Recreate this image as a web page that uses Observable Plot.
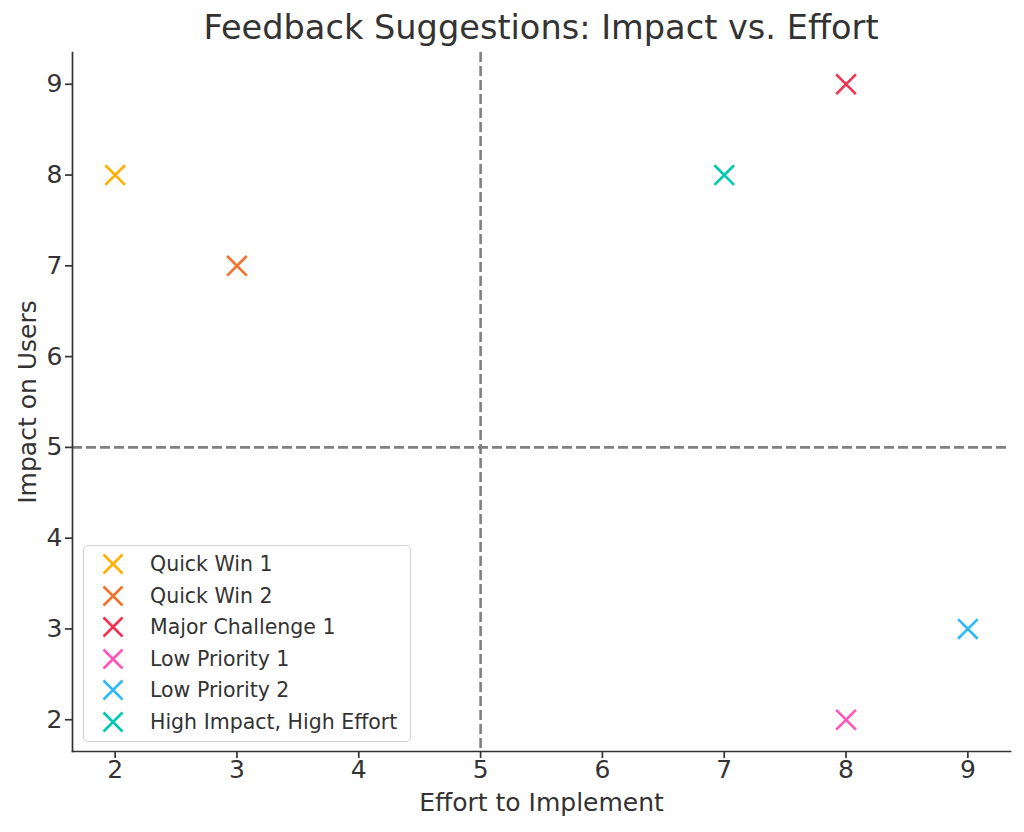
<!DOCTYPE html>
<html>
<head>
<meta charset="utf-8">
<script src="https://cdn.jsdelivr.net/npm/d3@7"></script>
<script src="https://cdn.jsdelivr.net/npm/@observablehq/plot@0.6"></script>
<style>
  html, body { margin: 0; padding: 0; background: #fff; }
  #wrap { position: relative; width: 1024px; height: 832px; font-family: "DejaVu Sans", sans-serif; color: #333; }
  #titleInner { position: absolute; left: 72px; width: 938px; top: 0; height: 52px; padding-top: 4px; box-sizing: border-box; line-height: 48px; font-size: 33.6px; text-align: center; white-space: nowrap; color: #333; }
  #legend { position: absolute; left: 83px; top: 545px; width: 328px; height: 197px; box-sizing: border-box; border: 1.5px solid #d0d0d0; border-radius: 5px; background: rgba(255,255,255,0.85); }
  .row { position: absolute; left: 0; height: 30px; display: flex; align-items: center; font-size: 20.5px; color: #333; white-space: nowrap; }
  .row svg { position: absolute; left: 18px; top: 4px; }
  .row span { position: absolute; left: 66px; top: 50%; transform: translateY(-50%); }
</style>
</head>
<body>
<div id="wrap">
  <div id="titleInner">Feedback Suggestions: Impact vs. Effort</div>
  <div id="chart" style="position:absolute;left:0;top:52px;"></div>
  <div id="legend"></div>
</div>
<script>
const names = ["Quick Win 1", "Quick Win 2", "Major Challenge 1", "Low Priority 1", "Low Priority 2", "High Impact, High Effort"];
const effort = [2, 3, 8, 8, 9, 7];
const impact = [8, 7, 9, 2, 3, 8];
const colors = ["#FFB000", "#F4722B", "#F2304F", "#FF55B8", "#2FB9F5", "#00C9B2"];
const xTicks = [2, 3, 4, 5, 6, 7, 8, 9];
const yTicks = [2, 3, 4, 5, 6, 7, 8, 9];
const threshold = 5;

const data = names.map((n, i) => ({name: n, effort: effort[i], impact: impact[i]}));

const chart = Plot.plot({
  width: 1024,
  height: 780,
  marginTop: 0,
  marginBottom: 81,
  marginLeft: 72,
  marginRight: 14,
  style: {fontFamily: "DejaVu Sans, sans-serif", fontSize: "25px", color: "#333", background: "white", overflow: "visible"},
  x: {domain: [1.65, 9.35]},
  y: {domain: [1.65, 9.35]},
  color: {domain: names, range: colors},
  marks: [
    Plot.ruleX([threshold], {stroke: "#7f7f7f", strokeWidth: 2.6, strokeDasharray: "10,4"}),
    Plot.ruleY([threshold], {stroke: "#7f7f7f", strokeWidth: 2.6, strokeDasharray: "10,4"}),
    Plot.frame({anchor: "left", stroke: "#333", strokeWidth: 1.7}),
    Plot.frame({anchor: "bottom", stroke: "#333", strokeWidth: 1.7}),
    Plot.axisX({ticks: xTicks, tickSize: 7, tickPadding: 2, tickFormat: d => String(d), fontSize: 25, stroke: "#333", strokeWidth: 1.7, label: null}),
    Plot.axisY({ticks: yTicks, tickSize: 7, tickPadding: 3, tickFormat: d => String(d), fontSize: 25, stroke: "#333", strokeWidth: 1.7, label: null}),
    Plot.dot(data, {x: "effort", y: "impact", stroke: "name", symbol: "times", r: 9, strokeWidth: 2.6}),
    Plot.text(["Effort to Implement"], {text: d => d, frameAnchor: "bottom", dy: 51, fontSize: 25, fill: "#333", lineAnchor: "middle", textAnchor: "middle"}),
    Plot.text(["Impact on Users"], {text: d => d, frameAnchor: "left", dx: -45, rotate: -90, fontSize: 25, fill: "#333", lineAnchor: "middle", textAnchor: "middle"})
  ]
});
document.getElementById("chart").appendChild(chart);

const legend = document.getElementById("legend");
names.forEach((n, i) => {
  const row = document.createElement("div");
  row.className = "row";
  row.style.top = (3 + i * 31.6) + "px";
  row.style.width = "320px";
  row.innerHTML = `<svg width="22" height="22" viewBox="-11 -11 22 22"><path d="M-9.5,-9.5L9.5,9.5M-9.5,9.5L9.5,-9.5" stroke="${colors[i]}" stroke-width="2.6" fill="none"/></svg><span>${n}</span>`;
  legend.appendChild(row);
});
</script>
</body>
</html>
